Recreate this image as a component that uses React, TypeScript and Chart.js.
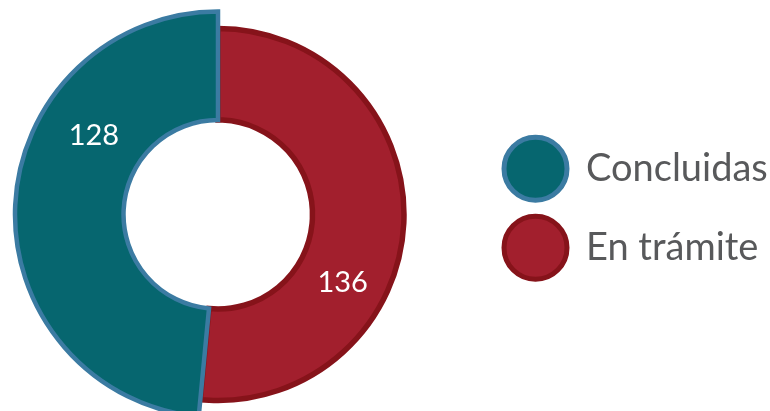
import React, { useEffect, useRef } from "react";
import { Chart, registerables } from "chart.js";

Chart.register(...registerables);

// Data (drawing order: red first so the teal border sits on top)
const categories = ["En trámite", "Concluidas"];
const values = [136, 128];

// Styles
const fillColors = ["#a21f2d", "#06666f"];
const borderColors = ["#86131a", "#3b7ba2"];
const borderWidths = [5.5, 4.5];
const TEAL_EXTRA_RADIUS = 17;
const LABEL_FRACTION = 0.655;
const LABEL_SHIFT_X = 5;
const LABEL_SHIFT_Y = -5;
const FONT = "Lato";

const extendPlugin = {
  id: "extendSlice",
  afterDatasetUpdate(chart: any, args: any) {
    const el = args.meta.data[1];
    if (el) el.outerRadius = el.outerRadius + TEAL_EXTRA_RADIUS;
  },
};

const valueLabelPlugin = {
  id: "valueLabels",
  afterDatasetsDraw(chart: any) {
    const meta = chart.getDatasetMeta(0);
    const ctx = chart.ctx;
    ctx.save();
    ctx.fillStyle = "#ffffff";
    ctx.font = `29px ${FONT}`;
    ctx.textAlign = "center";
    ctx.textBaseline = "middle";
    meta.data.forEach((el: any, i: number) => {
      const a = el.startAngle + (el.endAngle - el.startAngle) * LABEL_FRACTION;
      const r = (el.innerRadius + el.outerRadius) / 2;
      ctx.fillText(
        String(chart.data.datasets[0].data[i]),
        el.x + Math.cos(a) * r + LABEL_SHIFT_X,
        el.y + Math.sin(a) * r + LABEL_SHIFT_Y
      );
    });
    ctx.restore();
  },
};

export default function App() {
  const ref = useRef<HTMLCanvasElement | null>(null);
  useEffect(() => {
    let chart: any = null;
    let cancelled = false;
    const make = () => {
      if (cancelled || !ref.current) return;
      chart = new Chart(ref.current, {
        type: "doughnut",
        data: {
          labels: categories,
          datasets: [
            {
              data: values,
              backgroundColor: fillColors,
              borderColor: borderColors,
              borderWidth: borderWidths,
              borderJoinStyle: "miter",
            } as any,
          ],
        },
        options: {
          animation: false,
          responsive: true,
          maintainAspectRatio: false,
          events: [],
          radius: 186,
          cutout: "50.8%",
          layout: { padding: { left: 0, right: 0, top: 121.3, bottom: 103.3 } },
          plugins: {
            tooltip: { enabled: false },
            // empty spacer box between the doughnut area and the legend
            title: {
              display: true,
              text: "",
              position: "right",
              weight: 500,
              fullSize: false,
              padding: 0,
              font: { size: 52, lineHeight: 1 },
            },
            legend: {
              position: "right",
              align: "start",
              reverse: true,
              maxWidth: 282,
              labels: {
                boxWidth: 63,
                boxHeight: 63,
                padding: 16,
                color: "#58595b",
                font: { family: FONT, size: 38 },
                generateLabels: (c: any) => {
                  const meta = c.getDatasetMeta(0);
                  return c.data.labels.map((label: string, i: number) => {
                    const style = meta.controller.getStyle(i);
                    return {
                      text: label,
                      fillStyle: style.backgroundColor,
                      strokeStyle: style.borderColor,
                      lineWidth: 5,
                      borderRadius: 31.5,
                      fontColor: "#58595b",
                      hidden: !c.getDataVisibility(i),
                      index: i,
                    };
                  });
                },
              },
            },
          },
        } as any,
        plugins: [extendPlugin, valueLabelPlugin],
      });
    };
    const fontsReady = (document as any).fonts
      ? Promise.all([
          (document as any).fonts.load(`38px ${FONT}`),
          (document as any).fonts.load(`29px ${FONT}`),
        ]).catch(() => null)
      : Promise.resolve(null);
    fontsReady.then(make);
    return () => {
      cancelled = true;
      if (chart) chart.destroy();
    };
  }, []);
  return (
    <div style={{ position: "absolute", left: 0, top: 0, width: 770, height: 411, background: "#ffffff" }}>
      <canvas ref={ref} />
    </div>
  );
}
